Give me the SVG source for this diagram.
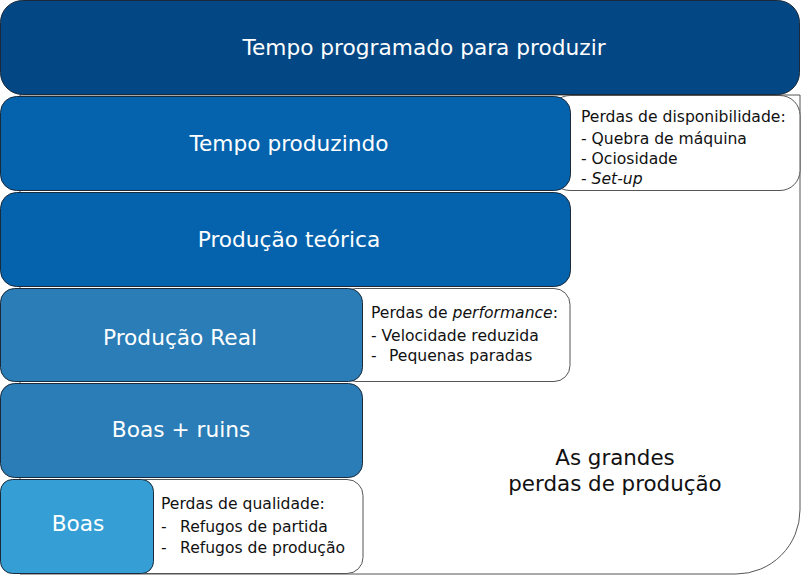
<svg xmlns="http://www.w3.org/2000/svg" width="801" height="575" viewBox="0 0 801 575">
<style>
.bar{stroke:#1a2a3a;stroke-width:1}
.note{fill:#fff;stroke:#555;stroke-width:1}
.t{font-family:"DejaVu Sans",sans-serif;font-size:21.7px;fill:#fff;text-anchor:middle;dominant-baseline:central}
.n{font-family:"DejaVu Sans",sans-serif;font-size:15.6px;fill:#111}
.b{font-family:"DejaVu Sans",sans-serif;font-size:21.4px;fill:#111;text-anchor:middle}
</style>
<rect width="801" height="575" fill="#fff"/>
<g id="background">
<path d="M20,95 H800 V510 A64,64 0 0 1 736,574 H20 Z" fill="#fff" stroke="#555" stroke-width="1"/>
<text class="b" x="615" y="465">As grandes</text>
<text class="b" x="615" y="491">perdas de produção</text>
</g>
<g id="n-disponibilidade">
<rect class="note" x="550" y="95.5" width="250" height="95" rx="20"/>
<text class="n" x="581" y="122">Perdas de disponibilidade:</text>
<text class="n" x="581" y="144">- Quebra de máquina</text>
<text class="n" x="581" y="164">- Ociosidade</text>
<text class="n" x="581" y="184">- <tspan font-style="italic">Set-up</tspan></text>
</g>
<g id="n-performance">
<rect class="note" x="340" y="288.5" width="230" height="93" rx="16"/>
<text class="n" x="371" y="318">Perdas de <tspan font-style="italic">performance</tspan>:</text>
<text class="n" x="371" y="341">- Velocidade reduzida</text>
<text class="n" x="371" y="361">-<tspan x="389">Pequenas paradas</tspan></text>
</g>
<g id="n-qualidade">
<rect class="note" x="130" y="479.5" width="233" height="94" rx="16"/>
<text class="n" x="161" y="509">Perdas de qualidade:</text>
<text class="n" x="161" y="532">-<tspan x="180">Refugos de partida</tspan></text>
<text class="n" x="161" y="553">-<tspan x="180">Refugos de produção</tspan></text>
</g>
<g id="n-programado">
<rect class="bar" x="0.5" y="0.5" width="799" height="94" rx="22" fill="#034784"/>
<text class="t" x="424" y="47">Tempo programado para produzir</text>
</g>
<g id="n-produzindo">
<rect class="bar" x="0.5" y="96.5" width="570" height="94" rx="16" fill="#0563ad"/>
<text class="t" x="289" y="143">Tempo produzindo</text>
</g>
<g id="n-teorica">
<rect class="bar" x="0.5" y="192.5" width="570" height="94" rx="16" fill="#0563ad"/>
<text class="t" x="289" y="239">Produção teórica</text>
</g>
<g id="n-real">
<rect class="bar" x="0.5" y="288.5" width="362" height="93" rx="14" fill="#2a7db6"/>
<text class="t" x="180" y="337">Produção Real</text>
</g>
<g id="n-boasruins">
<rect class="bar" x="0.5" y="383.5" width="362" height="94" rx="14" fill="#2a7db6"/>
<text class="t" x="181" y="429">Boas + ruins</text>
</g>
<g id="n-boas">
<rect class="bar" x="0.5" y="479.5" width="153" height="94" rx="12" fill="#359fd5"/>
<text class="t" x="78" y="523">Boas</text>
</g>
<g id="connectors"/>
</svg>
